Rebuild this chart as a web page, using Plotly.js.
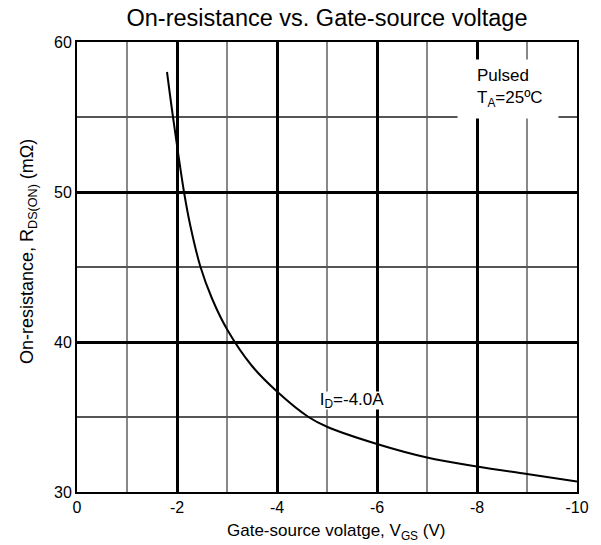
<!DOCTYPE html>
<html>
<head>
<meta charset="utf-8">
<script src="https://cdn.plot.ly/plotly-3.0.1.min.js"></script>
<style>html,body{margin:0;padding:0;background:#fff;}#chart{width:601px;height:545px;}</style>
</head>
<body>
<div id="chart"></div>
<script>
// Gate-source voltage (V) and on-resistance (mOhm)
const vgs = [-1.8, -1.92, -2.14, -2.27, -2.47, -2.7, -3.0, -3.5, -4.0, -4.63, -5.0, -6.0, -7.0, -8.0, -9.0, -10.0];
const rds = [58.0, 55.0, 50.0, 47.7, 45.0, 42.9, 40.85, 38.4, 36.7, 35.0, 34.35, 33.2, 32.3, 31.7, 31.2, 30.7];

const xTickVals = [0, -2, -4, -6, -8, -10];
const xTickText = ["0", "-2", "-4", "-6", "-8", "-10"];
const xMinorVals = [-1, -3, -5, -7, -9];
const yTickVals = [30, 40, 50, 60];
const yTickText = ["30", "40", "50", "60"];
const yMinorVals = [35, 45, 55];

const FONT = "Liberation Sans, Arial, sans-serif";

const trace = {
  x: vgs, y: rds, type: "scatter", mode: "lines",
  line: {color: "#000", width: 2, shape: "spline", smoothing: 1},
  hoverinfo: "skip", showlegend: false
};

const layout = {
  width: 601, height: 545,
  margin: {l: 77, r: 24, t: 42, b: 53},
  paper_bgcolor: "#fff", plot_bgcolor: "#fff",
  font: {family: FONT, color: "#000", size: 16},
  title: {text: "On-resistance vs. Gate-source voltage", font: {family: FONT, size: 23.5, color: "#000"},
          x: 0.5, xref: "paper", y: 1 - 18/545, yanchor: "middle"},
  xaxis: {
    range: [0, -10], tickmode: "array", tickvals: xTickVals, ticktext: xTickText,
    showgrid: true, gridcolor: "#000", gridwidth: 3,
    minor: {tickmode: "array", tickvals: xMinorVals, showgrid: true, gridcolor: "#888", gridwidth: 1.3, ticks: ""},
    zeroline: false, showline: true, linecolor: "#000", linewidth: 2, mirror: true,
    ticks: "", tickfont: {size: 16, family: FONT}, fixedrange: true
  },
  yaxis: {
    range: [30, 60], tickmode: "array", tickvals: yTickVals, ticktext: yTickText,
    showgrid: true, gridcolor: "#000", gridwidth: 3,
    minor: {tickmode: "array", tickvals: yMinorVals, showgrid: true, gridcolor: "#555", gridwidth: 1.2, ticks: ""},
    zeroline: false, showline: true, linecolor: "#000", linewidth: 2, mirror: true,
    ticks: "", tickfont: {size: 16, family: FONT}, fixedrange: true
  },
  annotations: [
    {xref: "paper", yref: "paper", x: (336-77)/500, y: -(532-492)/450, xanchor: "center", yanchor: "middle",
     text: "Gate-source volatge, V<sub>GS</sub> (V)", showarrow: false, font: {size: 17, family: FONT}},
    {xref: "paper", yref: "paper", x: (28-77)/500, y: 1-(252-42)/450, xanchor: "center", yanchor: "middle",
     textangle: -90, text: "On-resistance, R<sub>DS(ON)</sub> (mΩ)", showarrow: false, font: {size: 18, family: FONT}},
    {xref: "x", yref: "y", x: -8.62, y: 56.87, xanchor: "center", yanchor: "middle",
     text: " ", width: 100, height: 58, bgcolor: "#fff", borderpad: 0, showarrow: false},
    {xref: "x", yref: "y", x: -7.96, y: 56.93, xanchor: "left", yanchor: "middle", align: "left",
     text: "Pulsed<br>T<sub>A</sub>=25ºC", showarrow: false, font: {size: 17, family: FONT}},
    {xref: "x", yref: "y", x: -5.5, y: 36.13, xanchor: "center", yanchor: "middle",
     text: "I<sub>D</sub>=-4.0A", showarrow: false, bgcolor: "#fff", borderpad: 1, width: 98, height: 15,
     font: {size: 17, family: FONT}}
  ]
};

Plotly.newPlot("chart", [trace], layout, {staticPlot: true, displayModeBar: false});
</script>
</body>
</html>
